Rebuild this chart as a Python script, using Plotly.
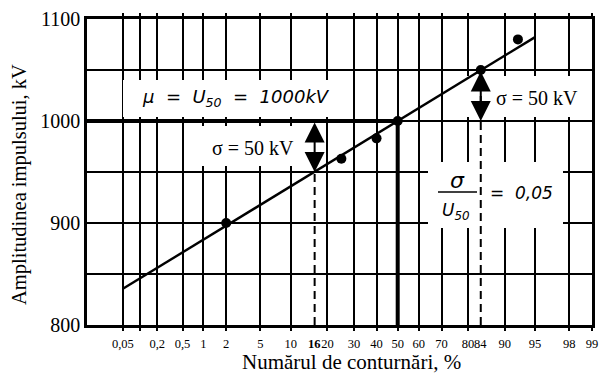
import plotly.graph_objects as go
from statistics import NormalDist

_nd = NormalDist()


def z(p):
    return _nd.inv_cdf(p / 100.0)


# ---------------- data ----------------
grid_pct = [0.05, 0.1, 0.2, 0.5, 1, 2, 5, 10, 20, 30, 40, 50, 60, 70, 80, 90, 95, 98, 99]
grid_labels = ["0,05", "", "0,2", "0,5", "1", "2", "5", "10", "20", "30", "40",
               "50", "60", "70", "80", "90", "95", "98", "99"]
extra_pct = [16, 84]
extra_labels = ["<b>16</b>", "84"]

meas_pct = [2, 25, 40, 50, 84, 92.5]
meas_kv = [900, 963, 983, 1000, 1050, 1080]

mu = 1000
sigma = 50
fit_pct = [0.05, 95]

y_ticks = [800, 850, 900, 950, 1000, 1050, 1100]
y_labels = ["800", "", "900", "", "1000", "", "1100"]

x_left = -3.72
x_right = z(99)

# ---------------- layout helpers (pixel -> paper / data) ----------------
L, R, T, B = 87, 592, 19, 325
W, H = R - L, B - T


def px(x):
    return (x - L) / W


def py(y):
    return (B - y) / H


def dx(x):
    return x_left + px(x) * (x_right - x_left)


def dy(y):
    return y_ticks[0] + py(y) * (y_ticks[-1] - y_ticks[0])


SERIF = "Liberation Serif, Times New Roman, serif"
SANS = "DejaVu Sans"

fig = go.Figure()

# fitted line
fx = [z(p) for p in fit_pct]
fig.add_trace(go.Scatter(x=fx, y=[mu + sigma * v for v in fx], mode="lines",
                         line=dict(color="black", width=2.4), hoverinfo="skip"))

# thick lines marking U50
fig.add_trace(go.Scatter(x=[x_left, z(50), z(50)], y=[mu, mu, y_ticks[0]], mode="lines",
                         line=dict(color="black", width=4), hoverinfo="skip"))

# dashed lines at 16 % and 84 %
fig.add_trace(go.Scatter(x=[z(16), z(16)], y=[y_ticks[0], mu - sigma], mode="lines",
                         line=dict(color="black", width=2, dash="8px,5px"), hoverinfo="skip"))
fig.add_trace(go.Scatter(x=[z(84), z(84)], y=[y_ticks[0], mu + sigma], mode="lines",
                         line=dict(color="black", width=2, dash="8px,5px"), hoverinfo="skip"))

# measured points
fig.add_trace(go.Scatter(x=[z(p) for p in meas_pct], y=meas_kv, mode="markers",
                         marker=dict(color="black", size=10), hoverinfo="skip"))

# white boxes covering grid behind texts
boxes = [(123, 80, 345, 117), (200, 126, 299, 166), (466, 76, 588, 117), (428, 162, 563, 228)]
for (x0, y0, x1, y1) in boxes:
    fig.add_shape(type="rect", xref="x", yref="y",
                  x0=dx(x0), x1=dx(x1), y0=dy(y1), y1=dy(y0),
                  fillcolor="white", line=dict(width=0), layer="between")

# fraction bar
fig.add_shape(type="line", xref="paper", yref="paper",
              x0=px(438), x1=px(477), y0=py(192), y1=py(192),
              line=dict(color="black", width=1.5), layer="above")

ann = []
# double arrows sigma
for p, lo, hi in [(16, mu - sigma, mu), (84, mu, mu + sigma)]:
    ann.append(dict(x=z(p), y=lo, ax=z(p), ay=hi, xref="x", yref="y", axref="x", ayref="y",
                    showarrow=True, arrowhead=2, startarrowhead=2, arrowside="end+start",
                    arrowsize=2.0, startarrowsize=2.0, arrowwidth=2, arrowcolor="black", text=""))


def label(x, y, text, family, size, angle=0, xref="paper"):
    return dict(x=x, y=y, xref=xref, yref="paper", showarrow=False, text=text,
                xanchor="center", yanchor="middle", textangle=angle,
                font=dict(family=family, size=size, color="black"))


nb = "\u00a0"
ann.append(label(px(236), py(98), f"<i>μ{nb*2}={nb*2}U<sub>50</sub>{nb*2}={nb*2}1000kV</i>", SANS, 18))
ann.append(label(px(253), py(148), "σ = 50 kV", SERIF, 20))
ann.append(label(px(537), py(98), "σ = 50 kV", SERIF, 20))
ann.append(label(px(457), py(180), "<i>σ</i>", SANS, 22))
ann.append(label(px(456), py(211), "<i>U<sub>50</sub></i>", SANS, 17))
ann.append(label(px(521), py(193), f"<i>={nb}{nb}0,05</i>", SANS, 17))

# extra tick labels 16 and 84
for p, t in zip(extra_pct, extra_labels):
    ann.append(label(z(p), py(344), t, SERIF, 12.5, xref="x"))

# axis titles
ann.append(label(px(351), py(362), "Numărul de conturnări, %", SERIF, 21))
ann.append(label(px(19), py(185), "Amplitudinea impulsului, kV", SERIF, 20.5, angle=-90))

fig.update_layout(
    width=600, height=374,
    margin=dict(l=L, r=600 - R, t=T, b=374 - B, autoexpand=False),
    paper_bgcolor="white", plot_bgcolor="white",
    showlegend=False,
    annotations=ann,
    xaxis=dict(range=[x_left, x_right], tickmode="array",
               tickvals=[z(p) for p in grid_pct], ticktext=grid_labels,
               showgrid=True, gridcolor="black", gridwidth=1.8,
               showline=True, linecolor="black", linewidth=2.5, mirror="ticks",
               ticks="outside", ticklen=3, tickwidth=1.8, tickcolor="black",
               ticklabelstandoff=2,
               tickfont=dict(family=SERIF, size=12.5, color="black"), zeroline=False,
               fixedrange=True),
    yaxis=dict(range=[y_ticks[0], y_ticks[-1]], tickmode="array",
               tickvals=y_ticks, ticktext=y_labels,
               showgrid=True, gridcolor="black", gridwidth=1.8,
               showline=True, linecolor="black", linewidth=2.5, mirror=True,
               ticks="", tickfont=dict(family=SERIF, size=20, color="black"),
               zeroline=False, fixedrange=True),
)

fig.write_html("out.html", config={"displayModeBar": False},
               post_script="document.body.style.margin='0';document.body.style.overflow='hidden';")
